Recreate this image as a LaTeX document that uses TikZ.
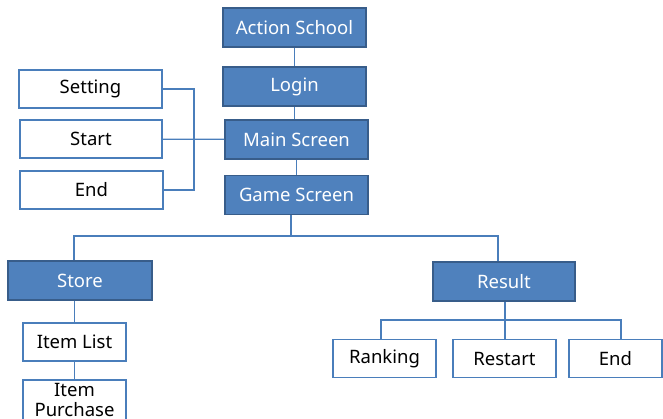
\documentclass[tikz,border=0pt]{standalone}
\usepackage{fontspec}
\setmainfont{Noto Sans}
\usepackage{xcolor}
\usetikzlibrary{positioning, calc}

\definecolor{boxfill}{HTML}{4F81BD}
\definecolor{boxedge}{HTML}{385D8A}
\definecolor{boxline}{HTML}{4A7EBB}

\begin{document}
\begin{tikzpicture}[x=1pt,y=-1pt,
  darkbox/.style={draw=boxedge, fill=boxfill, text=white, line width=1.3pt,
    minimum width=143pt, minimum height=39pt, inner sep=0pt,
    font=\fontsize{18.5}{21}\selectfont},
  lightbox/.style={draw=boxline, fill=white, text=black, line width=1.3pt,
    minimum height=38pt, inner sep=0pt, align=center,
    font=\fontsize{18.5}{21}\selectfont},
  link/.style={draw=boxline, line width=1.3pt}]

\useasboundingbox (0,0) rectangle (663,419);

% ------------------------
% Main column
% ------------------------
\node[darkbox] (school) at (294.5,27.5) {Action School};
\node[darkbox] (login)  at (294.5,86.5) {Login};
\node[darkbox] (main)   at (296.5,139.5) {Main Screen};
\node[darkbox] (game)   at (296.5,195) {Game Screen};

\draw[link] (school) -- (login);
\draw[link] (login.south -| school.south) -- (main.north -| school.south);
\draw[link] (main) -- (game);

% ------------------------
% Menu on the left
% ------------------------
\node[lightbox, minimum width=143pt] (setting) at (90.5,89)  {Setting};
\node[lightbox, minimum width=142pt] (start)   at (91,139)   {Start};
\node[lightbox, minimum width=143pt] (quit)    at (91.5,190) {End};

\coordinate (menujoin) at (194,139);
\draw[link] (setting.east) -| (menujoin) |- (quit.east);
\draw[link] (start) -- (main);

% ------------------------
% Branches under the game screen
% ------------------------
\node[darkbox, minimum width=144pt] (store)  at (80,280.5)  {Store};
\node[darkbox, minimum width=142pt] (result) at (504,281.5) {Result};

\coordinate (gamejoin) at (291,236);
\draw[link] (game.south -| gamejoin) -- (gamejoin);
\draw[link] (gamejoin) -| (74,0 |- store.north);
\draw[link] (gamejoin) -| (498,0 |- result.north);

% Store side
\node[lightbox, minimum width=103pt] (itemlist) at (74.5,342) {Item List};
\node[lightbox, minimum width=103pt, minimum height=40pt,
  font=\fontsize{18.5}{19.5}\selectfont] (purchase) at (74.5,400) {Item\\Purchase};

\draw[link] (store.south -| itemlist.north) -- (itemlist.north);
\draw[link] (itemlist) -- (purchase);

% Result side
\node[lightbox, minimum width=103pt] (ranking) at (384.5,358.5) {Ranking};
\node[lightbox, minimum width=103pt] (restart) at (504.5,358.5) {Restart};
\node[lightbox, minimum width=93pt]  (over)    at (615.5,358.5) {End};

\coordinate (resultjoin) at (505,320);
\draw[link] (result.south -| resultjoin) -- (restart.north -| resultjoin);
\draw[link] (ranking.north -| 381,0) |- (resultjoin) -| (over.north -| 621,0);

\end{tikzpicture}
\end{document}
